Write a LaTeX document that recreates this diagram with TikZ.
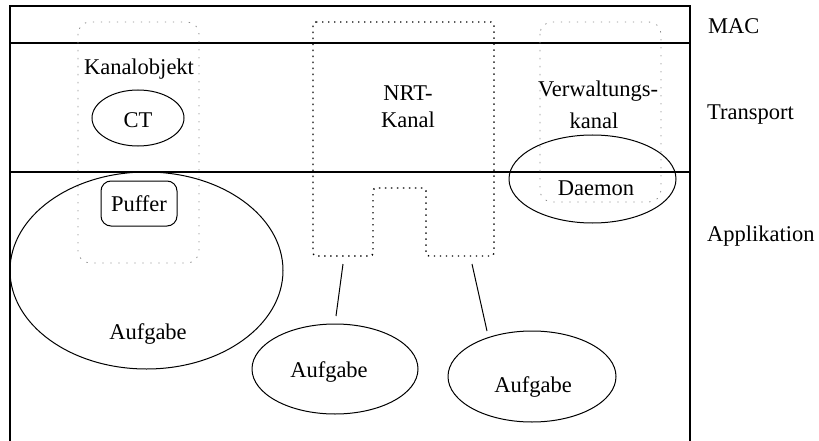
\documentclass[tikz,border=0pt]{standalone}
\usepackage{fontspec}
\setmainfont{Liberation Serif}
\usetikzlibrary{shapes.geometric}
\begin{document}
\begin{tikzpicture}[x=1pt,y=-1pt,
  layerline/.style={line width=1.2pt},
  blob/.style={ellipse,draw,line width=1pt,inner sep=0pt},
  softbox/.style={draw=black!45,line width=0.8pt,dash pattern=on 1.4pt off 6.6pt,rounded corners=12pt},
  nrtbox/.style={draw,line width=1.4pt,dash pattern=on 1.4pt off 4.6pt,rounded corners=3pt},
  lbl/.style={anchor=base,inner sep=0pt,font=\fontsize{22.5}{25}\selectfont},
  link/.style={line width=1pt}]
\useasboundingbox (0,0) rectangle (819,441);

% layer frame
\draw[layerline] (10,441) -- (10,6) -- (690,6) -- (690,441);
\draw[layerline] (10,43) -- (690,43);
\draw[layerline] (10,172) -- (690,172);

% layer names
\node[lbl,anchor=base west] (mac) at (708,34) {MAC};
\node[lbl,anchor=base west] (transport) at (707,120) {Transport};
\node[lbl,anchor=base west] (appl) at (707,241) {Applikation};

% channel object
\draw[softbox] (78,22) rectangle (199,263);
\node[lbl] (kanalobj) at (139,75) {Kanalobjekt};
\node[blob,minimum width=92pt,minimum height=56pt] (ct) at (138,118) {};
\node[lbl] (cttext) at (138,128) {CT};
\node[draw,line width=1pt,rounded corners=10pt,minimum width=76pt,minimum height=45pt,inner sep=0pt] (puffer) at (139,203.5) {};
\node[lbl] (puffertext) at (139,211) {Puffer};

% large task
\node[blob,minimum width=273pt,minimum height=197pt] (task1) at (146.5,270.5) {};
\node[lbl] (task1text) at (148,339) {Aufgabe};

% NRT channel
\draw[nrtbox] (313,22) -- (494,22) -- (494,256) -- (426,256) -- (426,188)
  -- (373,188) -- (373,256) -- (313,256) -- cycle;
\node[lbl] (nrt1) at (408,101) {NRT-};
\node[lbl] (nrt2) at (408,128) {Kanal};

% management channel
\draw[softbox] (540,22) rectangle (661,202);
\node[lbl] (verw1) at (598,97) {Verwaltungs-};
\node[lbl] (verw2) at (594,129) {kanal};
\node[blob,minimum width=167pt,minimum height=88pt] (daemon) at (592.5,179) {};
\node[lbl] (daemontext) at (596,195) {Daemon};

% tasks attached to the NRT channel
\node[blob,minimum width=166pt,minimum height=90pt] (task2) at (335,369) {};
\node[lbl] (task2text) at (329,377) {Aufgabe};
\node[blob,minimum width=168pt,minimum height=91pt] (task3) at (532,376.5) {};
\node[lbl] (task3text) at (533,392) {Aufgabe};

\coordinate (legL) at (343,264);
\coordinate (legR) at (472,264);
\coordinate (task2top) at (336,316);
\coordinate (task3top) at (487,331);
\draw[link] (legL) -- (task2top);
\draw[link] (legR) -- (task3top);
\end{tikzpicture}
\end{document}
